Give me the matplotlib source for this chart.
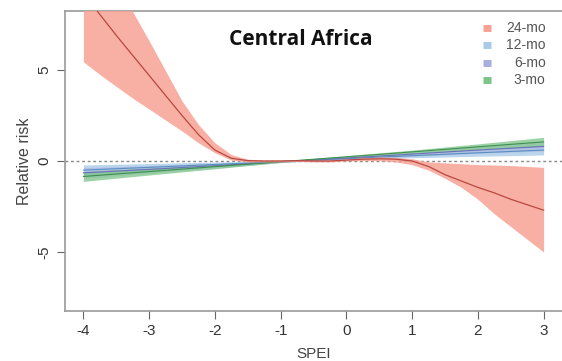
import numpy as np
import matplotlib.pyplot as plt

plt.rcParams['font.family'] = ['Liberation Sans', 'DejaVu Sans']

# SPEI grid for the 24-mo curve
x24 = np.arange(-4, 3.01, 0.25)
fit24 = [9.2, 8.05, 6.9, 5.8, 4.7, 3.6, 2.5, 1.45, 0.6, 0.15, 0.02, 0.0, 0.0,
         0.02, 0.0, 0.0, 0.05, 0.1, 0.12, 0.1, 0.0, -0.3, -0.75, -1.1, -1.45,
         -1.75, -2.1, -2.4, -2.7]
hi24 = [13.2, 11.5, 9.8, 8.2, 6.6, 4.95, 3.3, 2.0, 1.0, 0.35, 0.1, 0.05, 0.05,
        0.05, 0.05, 0.05, 0.1, 0.18, 0.22, 0.2, 0.12, -0.05, -0.1, -0.15, -0.2,
        -0.22, -0.25, -0.3, -0.35]
lo24 = [5.45, 4.75, 4.1, 3.45, 2.85, 2.25, 1.65, 1.0, 0.45, 0.05, -0.05, -0.05,
        -0.05, -0.02, -0.05, -0.05, 0.0, 0.02, 0.02, -0.05, -0.2, -0.5, -0.95,
        -1.45, -2.1, -2.9, -3.6, -4.3, -5.0]

# shorter indices, nearly linear
xs = [-4, -3, -2, -1, 0, 1, 2, 3]
fit12 = [-0.50, -0.35, -0.19, -0.03, 0.13, 0.29, 0.45, 0.60]
lo12 = [-0.80, -0.56, -0.32, -0.07, 0.08, 0.18, 0.26, 0.33]
hi12 = [-0.22, -0.14, -0.06, 0.01, 0.18, 0.40, 0.64, 0.88]
fit6 = [-0.65, -0.46, -0.26, -0.05, 0.16, 0.38, 0.60, 0.80]
lo6 = [-0.95, -0.67, -0.39, -0.09, 0.11, 0.27, 0.42, 0.55]
hi6 = [-0.37, -0.25, -0.13, -0.01, 0.21, 0.49, 0.78, 1.06]
fit3 = [-0.85, -0.58, -0.31, -0.04, 0.23, 0.50, 0.78, 1.05]
lo3 = [-1.12, -0.77, -0.43, -0.08, 0.17, 0.40, 0.62, 0.80]
hi3 = [-0.58, -0.39, -0.19, 0.00, 0.29, 0.60, 0.94, 1.30]

labels = ['24-mo', '12-mo', '6-mo', '3-mo']
xtick_labels = ['-4', '-3', '-2', '-1', '0', '1', '2', '3']
ytick_labels = ['-5', '0', '5']
fills = ['#f7a295', '#a9cbe8', '#a9aee0', '#7cc48a']
lines = ['#b8483f', '#5a8fc0', '#6a70b8', '#3f8f4f']

fig = plt.figure(figsize=(5.62, 3.61), dpi=100)
ax = fig.add_axes([65/562, 50/361, 497/562, 300/361])

ax.axhline(0, color='#888888', lw=1, ls=(0, (2, 2)), zorder=1)

ax.fill_between(xs, lo12, hi12, color=fills[1], alpha=0.8, lw=0, zorder=2)
ax.plot(xs, fit12, color=lines[1], lw=0.8, zorder=3)
ax.fill_between(xs, lo6, hi6, color=fills[2], alpha=0.5, lw=0, zorder=2)
ax.plot(xs, fit6, color=lines[2], lw=0.8, zorder=3)
ax.fill_between(xs, lo3, hi3, color=fills[3], alpha=0.75, lw=0, zorder=2)
ax.plot(xs, fit3, color=lines[3], lw=0.8, zorder=3)
ax.fill_between(x24, lo24, hi24, color=fills[0], alpha=0.85, lw=0, zorder=4)
ax.plot(x24, fit24, color=lines[0], lw=0.9, zorder=5)

ax.set_xlim(-4.28, 3.28)
ax.set_ylim(-8.24, 8.24)
ax.set_xticks(range(-4, 4))
ax.set_xticklabels(xtick_labels)
ax.set_yticks([-5, 0, 5])
ax.set_yticklabels(ytick_labels, rotation=90, va='center')
ax.tick_params(colors='#666666', labelcolor='#333333', labelsize=11, length=6, width=0.8)
for s in ax.spines.values():
    s.set_color('#999999')
    s.set_linewidth(1.2)
ax.spines['right'].set_visible(False)

ax.set_xlabel('SPEI', fontsize=11, color='#444444', labelpad=6)
ax.set_ylabel('Relative risk', fontsize=11.5, color='#444444', labelpad=4)

ax.text(-0.7, 6.7, 'Central Africa', fontsize=15, fontweight='bold',
        family='Open Sans', ha='center', va='center', color='#111111')

# legend drawn by hand (R-style)
for i, lab in enumerate(labels):
    yy = 7.3 - i * 0.95
    ax.plot([2.08, 2.2], [yy, yy], color=fills[i], lw=5, solid_capstyle='butt')
    ax.text(3.03, yy, lab, fontsize=10, color='#555555', ha='right', va='center')

plt.savefig('out.png', dpi=100)
